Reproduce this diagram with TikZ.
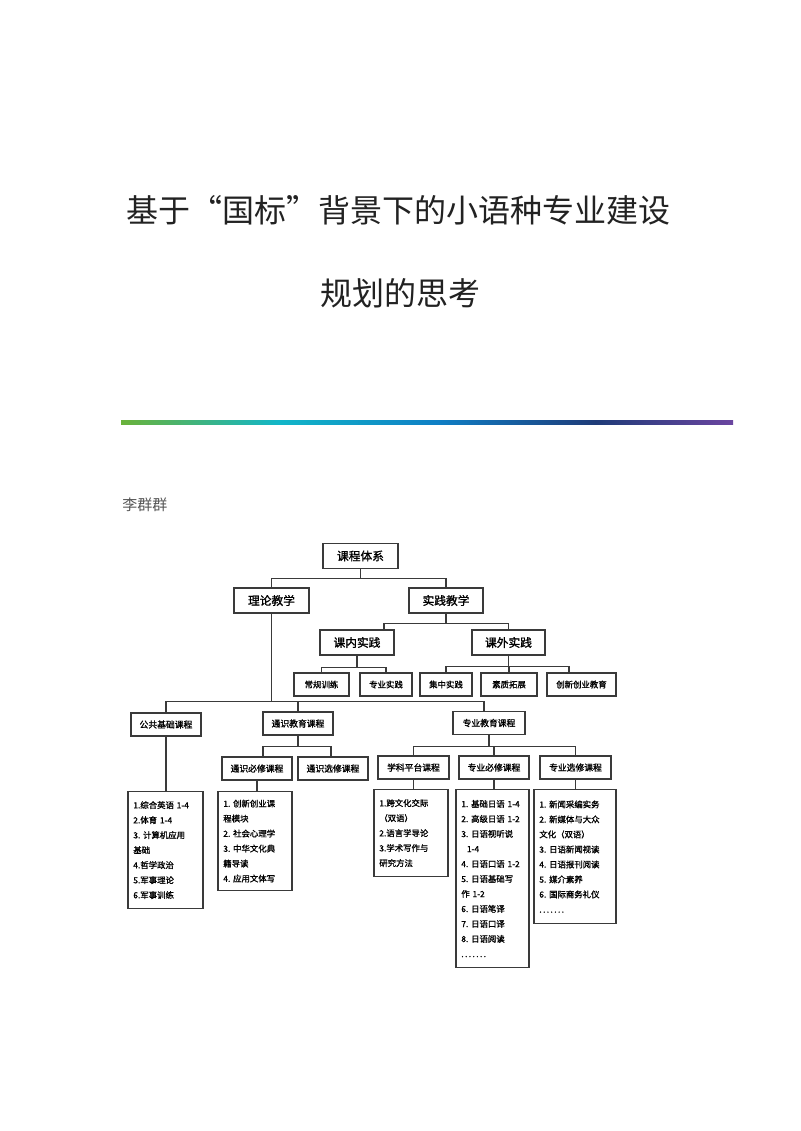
\documentclass[tikz,border=0pt]{standalone}
\usepackage{fontspec}
\usepackage{tikz}
\usetikzlibrary{calc}
\newfontfamily\cjk{Noto Sans CJK SC}
\newfontfamily\cjkb[FakeBold=1.2]{Noto Sans CJK SC}
\definecolor{linegray}{HTML}{3A3A3A}
\definecolor{titlegray}{HTML}{222222}
\definecolor{authorgray}{HTML}{555555}
\definecolor{barA}{HTML}{6AB23A}
\definecolor{barB}{HTML}{12B6C8}
\definecolor{barC}{HTML}{0F7FC5}
\definecolor{barD}{HTML}{1F3B78}
\definecolor{barE}{HTML}{6B45A0}

\begin{document}
\begin{tikzpicture}[x=0.75pt, y=-0.75pt,
	box/.style={draw=linegray, line width=0.9pt, fill=white, inner sep=0pt, minimum height=17.25pt, font=\cjkb\fontsize{6.6}{8}\selectfont},
	big/.style={box, minimum height=18.75pt, font=\cjkb\fontsize{8.8}{10}\selectfont},
	small/.style={box, font=\cjkb\fontsize{6.3}{8}\selectfont},
	list/.style={box, anchor=north, align=left, inner xsep=4pt, inner ysep=0pt, text width=#1, font=\cjkb\fontsize{6.3}{11.25}\selectfont},
	link/.style={draw=linegray, line width=0.9pt}]
	\fill[white] (0,0) rectangle (800,1131);
	\useasboundingbox (0,0) rectangle (800,1131);
	
	\node[font=\cjk\fontsize{24}{28}\selectfont, text=titlegray] (t1) at (398.5,210) {基于“国标”背景下的小语种专业建设};
	\node[font=\cjk\fontsize{24}{28}\selectfont, text=titlegray] (t2) at (400,293) {规划的思考};
	\shade[left color=barA, right color=barB] (121,420) rectangle (279,424);
	\shade[left color=barB, right color=barC] (279,420) rectangle (437,424);
	\shade[left color=barC, right color=barD] (437,420) rectangle (596,424);
	\shade[left color=barD, right color=barE] (596,420) rectangle (733,424);
	\node[anchor=west, inner sep=0pt, font=\cjk\fontsize{11.25}{13}\selectfont, text=authorgray] (au) at (122,505) {李群群};
	
	\node[big, minimum width=56.25pt] (kc) at (360.5,556) {课程体系};
	\node[big, minimum width=56.25pt] (ll) at (271.5,600.5) {理论教学};
	\node[big, minimum width=55.5pt] (sj) at (446,600.5) {实践教学};
	\node[big, minimum width=55.5pt] (kn) at (357,642.5) {课内实践};
	\node[big, minimum width=54.75pt] (kw) at (508.5,642.5) {课外实践};
	
	\node[small, minimum width=41.25pt] (cg) at (321.5,684.5) {常规训练};
	\node[small, minimum width=39pt] (zs) at (386,684.5) {专业实践};
	\node[small, minimum width=39pt] (jz) at (446,684.5) {集中实践};
	\node[small, minimum width=42pt] (sz) at (509,684.5) {素质拓展};
	\node[small, minimum width=51.75pt] (cx) at (581.5,684.5) {创新创业教育};
	
	\node[box, minimum width=52.5pt] (gg) at (166,724.5) {公共基础课程};
	\node[box, minimum width=52.5pt] (ts) at (298,723.5) {通识教育课程};
	\node[box, minimum width=54pt] (zy) at (489,723) {专业教育课程};
	\node[box, minimum width=52.5pt] (tb) at (257,768.5) {通识必修课程};
	\node[box, minimum width=52.5pt] (tx) at (333,768.5) {通识选修课程};
	\node[box, minimum width=53.25pt] (xk) at (413.5,767.5) {学科平台课程};
	\node[box, minimum width=52.5pt] (zb) at (494,767.5) {专业必修课程};
	\node[box, minimum width=53.25pt] (zx) at (575.5,767.5) {专业选修课程};
	
	\node[list=48.25pt, minimum height=87.75pt] (l1) at (165.5,791) {1.综合英语~1-4\\2.体育~1-4\\3.~计算机应用\\基础\\4.哲学政治\\5.军事理论\\6.军事训练};
	\node[list=47.5pt, minimum height=74.25pt] (l2) at (255,791) {1.~创新创业课\\程模块\\2.~社会心理学\\3.~中华文化典\\籍导读\\4.~应用文体写};
	\node[list=47.5pt, minimum height=65.25pt] (l3) at (411,789) {1.跨文化交际\\（双语）\\2.语言学导论\\3.学术写作与\\研究方法};
	\node[list=46.75pt, minimum height=133.5pt] (l4) at (492.5,789) {1.~基础日语~1-4\\2.~高级日语~1-2\\3.~日语视听说\\\ \ 1-4\\4.~日语口语~1-2\\5.~日语基础写\\作~1-2\\6.~日语笔译\\7.~日语口译\\8.~日语阅读\\.\,.\,.\,.\,.\,.\,.};
	\node[list=53.5pt, minimum height=100.5pt] (l5) at (575,789) {1.~新闻采编实务\\2.~新媒体与大众\\文化（双语）\\3.~日语新闻视读\\4.~日语报刊阅读\\5.~媒介素养\\6.~国际商务礼仪\\.\,.\,.\,.\,.\,.\,.};
	
	\draw[link] (kc.south) -- ++(0,9) -| (ll.north);
	\draw[link] (kc.south) -- ++(0,9) -| (sj.north);
	\draw[link] (sj.south) -- ++(0,10) -| ($(kn.north)+(27,0)$);
	\draw[link] (sj.south) -- ++(0,10) -| (kw.north);
	\draw[link] (kn.south) -- ++(0,12) -| (cg.north);
	\draw[link] (kn.south) -- ++(0,12) -| (zs.north);
	\draw[link] (kw.south) -- ++(0,11) -| (jz.north);
	\draw[link] (kw.south) -- ++(0,11) -| (sz.north);
	\draw[link] (kw.south) -- ++(0,11) -| ($(cx.north)+(-12.5,0)$);
	\draw[link] (ll.south) -- ++(0,88) -| (gg.north);
	\draw[link] (ll.south) -- ++(0,88) -| (ts.north);
	\draw[link] (ll.south) -- ++(0,88) -| ($(zy.north)+(-5,0)$);
	\draw[link] (ts.south) -- ++(0,11) -| ($(tb.north)+(6,0)$);
	\draw[link] (ts.south) -- ++(0,11) -| ($(tx.north)+(-2,0)$);
	\draw[link] (zy.south) -- ++(0,11) -| (xk.north);
	\draw[link] (zy.south) -- ++(0,11) -| (zb.north);
	\draw[link] (zy.south) -- ++(0,11) -| (zx.north);
	\draw[link] (gg.south) -- (gg.south |- l1.north);
	\draw[link] (tb.south) -- (tb.south |- l2.north);
	\draw[link] (xk.south) -- (xk.south |- l3.north);
	\draw[link] (zb.south) -- (zb.south |- l4.north);
	\draw[link] (zx.south) -- (zx.south |- l5.north);
\end{tikzpicture}
\end{document}
